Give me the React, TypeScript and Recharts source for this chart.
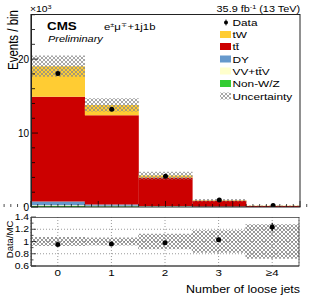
import React from 'react';
import { ComposedChart, Bar, Line, XAxis, YAxis, ErrorBar, CartesianGrid } from 'recharts';

const FONT = '"Liberation Sans", Arial, Helvetica, sans-serif';
const SX = 1.22;

// ---- data (thousands of events) ----
const categories = ['0', '1', '2', '3', '≥4'];
const nonWZ = [0.15, 0.1, 0.05, 0.02, 0.005];
const vvttv = [0.1, 0.08, 0.04, 0.02, 0.005];
const dyVals = [0.5, 0.15, 0.05, 0.02, 0.005];
const ttbar = [14.15, 12.07, 3.86, 0.79, 0.125];
const tw = [4.15, 1.4, 0.25, 0.07, 0.02];
const dataVals = [18.07, 13.22, 4.17, 0.95, 0.197];
const dataErr = [0.13, 0.11, 0.06, 0.03, 0.014];
const relUnc = [0.075, 0.065, 0.125, 0.185, 0.28];
const ratioVals = [0.95, 0.96, 0.98, 1.03, 1.235];
const ratioErr = [0.008, 0.009, 0.016, 0.035, 0.07];

const mainYTicks = [0, 2, 4, 6, 8, 10, 12, 14, 16, 18, 20, 22, 24, 26];
const mainYLabels: Record<number, string> = { 0: '0', 10: '10', 20: '20' };
const xMinorTicks: number[] = [];
for (let k = -5; k <= 45; k++) xMinorTicks.push(k / 10);
const ratioYTicks = [0.6, 0.7, 0.8, 0.9, 1.0, 1.1, 1.2, 1.3, 1.4];
const ratioYLabels: Record<string, string> = { '0.6': '0.6', '0.8': '0.8', '1': '1', '1.2': '1.2', '1.4': '1.4' };

const mainData = categories.map((cat, i) => {
  const mc = nonWZ[i] + vvttv[i] + dyVals[i] + ttbar[i] + tw[i];
  return {
    cat,
    nonWZ: nonWZ[i],
    vv: vvttv[i],
    dy: dyVals[i],
    tt: ttbar[i],
    tw: tw[i],
    unc: [mc * (1 - relUnc[i]), mc * (1 + relUnc[i])],
    data: dataVals[i],
    dataErr: dataErr[i],
  };
});

const ratioData = categories.map((cat, i) => ({
  cat,
  band: [1 - relUnc[i], 1 + relUnc[i]],
  ratio: ratioVals[i],
  ratioErr: ratioErr[i],
}));

function T(props: any) {
  const { x, y, size, children, anchor = 'start', weight = 'normal', fstyle = 'normal', rot = false, sx = SX } = props;
  const tr = rot
    ? `translate(${x},${y}) rotate(-90) scale(1,${sx})`
    : `translate(${x},${y}) scale(${sx},1)`;
  return (
    <text transform={tr} fontSize={size} fontFamily={FONT} fontWeight={weight} fontStyle={fstyle} textAnchor={anchor} fill="#000">
      {children}
    </text>
  );
}

const MainYTick = (props: any) => {
  const { x, y, payload } = props;
  const v = payload.value;
  const lab = mainYLabels[v];
  return (
    <g>
      <line x1={x} x2={x + (lab !== undefined ? 7 : 4)} y1={y} y2={y} stroke="#000" strokeWidth={0.8} />
      {lab !== undefined && (
        <text x={x - 2} y={y} dy="0.36em" textAnchor="end" fontSize={10} fontFamily={FONT} fill="#000">
          {lab}
        </text>
      )}
    </g>
  );
};

const MainXTick = (props: any) => {
  const { x, y, payload } = props;
  const v = payload.value;
  const major = Math.abs(v - Math.round(v)) < 1e-6;
  return <line x1={x} x2={x} y1={y} y2={y - (major ? 6 : 3)} stroke="#000" strokeWidth={0.7} />;
};

const RatioYTick = (props: any) => {
  const { x, y, payload } = props;
  const v = payload.value;
  const key = String(Math.round(v * 10) / 10);
  const lab = ratioYLabels[key];
  return (
    <g>
      <line x1={x} x2={x + (lab !== undefined ? 5 : 2.5)} y1={y} y2={y} stroke="#000" strokeWidth={0.7} />
      {lab !== undefined && (
        <text transform={`translate(${x - 2},${y}) scale(1.15,1)`} dy="0.36em" textAnchor="end" fontSize={9} fontFamily={FONT} fill="#000">
          {lab}
        </text>
      )}
    </g>
  );
};

const RatioXTick = (props: any) => {
  const { x, y, payload } = props;
  return (
    <text transform={`translate(${x},${y + 9.7}) scale(${SX},1)`} textAnchor="middle" fontSize={9.5} fontFamily={FONT} fill="#000">
      {payload.value}
    </text>
  );
};

const Hatch = ({ id, color = '#8a8a8a' }: { id: string; color?: string }) => (
  <pattern id={id} patternUnits="userSpaceOnUse" width={4} height={4}>
    <path d="M0,0 L4,4 M4,0 L0,4" stroke={color} strokeWidth={0.75} />
  </pattern>
);

const legendRows = [
  { label: 'tW', color: '#ffcc33', y: 34.5 },
  { label: 'tt\u0304', color: '#cc0000', y: 46.5 },
  { label: 'DY', color: '#6699cc', y: 59 },
  { label: 'VV+tt\u0304V', color: '#ffffcc', y: 71 },
  { label: 'Non-W/Z', color: '#33cc33', y: 83.5 },
];

const MAIN_MARGIN = { top: 14, right: 12, left: 31, bottom: 8 };

export default function App() {
  return (
    <div style={{ position: 'absolute', left: 0, top: 0, width: 312, height: 299, background: '#fff', overflow: 'hidden' }}>
      {/* main stacked histogram */}
      <div style={{ position: 'absolute', left: 0, top: 0 }}>
        <ComposedChart width={312} height={215} data={mainData} margin={MAIN_MARGIN} barCategoryGap={0} barGap={0}>
          <defs>
            <Hatch id="hatchMain" />
          </defs>
          <XAxis xAxisId="c" dataKey="cat" hide />
          <XAxis xAxisId="u" dataKey="cat" hide />
          <YAxis yAxisId="y" hide domain={[0, 26.1]} allowDataOverflow />
          <Bar xAxisId="c" yAxisId="y" stackId="mc" dataKey="nonWZ" fill="#33cc33" isAnimationActive={false} />
          <Bar xAxisId="c" yAxisId="y" stackId="mc" dataKey="vv" fill="#ffffcc" isAnimationActive={false} />
          <Bar xAxisId="c" yAxisId="y" stackId="mc" dataKey="dy" fill="#6699cc" isAnimationActive={false} />
          <Bar xAxisId="c" yAxisId="y" stackId="mc" dataKey="tt" fill="#cc0000" isAnimationActive={false} />
          <Bar xAxisId="c" yAxisId="y" stackId="mc" dataKey="tw" fill="#ffcc33" isAnimationActive={false} />
          <Bar xAxisId="u" yAxisId="y" dataKey="unc" fill="url(#hatchMain)" isAnimationActive={false} />
          <Line xAxisId="c" yAxisId="y" dataKey="data" stroke="none" dot={{ r: 2.5, fill: '#000', stroke: 'none' }} activeDot={false} isAnimationActive={false}>
            <ErrorBar dataKey="dataErr" width={0} stroke="#000" strokeWidth={1} />
          </Line>
        </ComposedChart>
      </div>

      {/* main axes drawn on top of the histogram (ROOT style inward ticks) */}
      <div style={{ position: 'absolute', left: 0, top: 0 }}>
        <ComposedChart width={312} height={215} data={mainData} margin={{ top: 14, right: 12, left: 1, bottom: 0 }}>
          <XAxis
            xAxisId="n"
            type="number"
            domain={[-0.5, 4.5]}
            ticks={xMinorTicks}
            interval={0}
            allowDataOverflow
            height={8}
            tickSize={0}
            tickMargin={0}
            axisLine={false}
            tick={<MainXTick />}
          />
          <YAxis
            yAxisId="y"
            width={30}
            domain={[0, 26.1]}
            ticks={mainYTicks}
            interval={0}
            allowDataOverflow
            tickSize={0}
            tickMargin={0}
            axisLine={{ stroke: '#000' }}
            tick={<MainYTick />}
          />
        </ComposedChart>
      </div>

      {/* ratio panel */}
      <div style={{ position: 'absolute', left: 0, top: 210 }}>
        <ComposedChart width={312} height={89} data={ratioData} margin={{ top: 7, right: 13, left: 1, bottom: 0 }} barCategoryGap={0} barGap={0}>
          <defs>
            <Hatch id="hatchRatio" color="#7a7a7a" />
          </defs>
          <CartesianGrid xAxisId="c" yAxisId="r" stroke="#9a9a9a" strokeDasharray="1 2" horizontalValues={[0.8, 1, 1.2]} />
          <XAxis xAxisId="c" dataKey="cat" height={33} tickSize={0} tickMargin={0} interval={0} axisLine={{ stroke: '#333' }} tickLine={false} tick={<RatioXTick />} />
          <YAxis
            yAxisId="r"
            width={30}
            domain={[0.6, 1.4]}
            ticks={ratioYTicks}
            interval={0}
            allowDataOverflow
            tickSize={0}
            tickMargin={0}
            axisLine={{ stroke: '#333' }}
            tick={<RatioYTick />}
          />
          <Bar xAxisId="c" yAxisId="r" dataKey="band" fill="url(#hatchRatio)" isAnimationActive={false} />
          <Line xAxisId="c" yAxisId="r" dataKey="ratio" stroke="none" dot={{ r: 2.5, fill: '#000', stroke: 'none' }} activeDot={false} isAnimationActive={false}>
            <ErrorBar dataKey="ratioErr" width={0} stroke="#000" strokeWidth={1} />
          </Line>
        </ComposedChart>
      </div>

      <svg width={312} height={299} style={{ position: 'absolute', left: 0, top: 0, pointerEvents: 'none' }}>
        <defs>
          <Hatch id="hatchLeg" />
        </defs>
        {/* frames */}
        <rect x={31.5} y={14.5} width={268.5} height={192.5} fill="none" stroke="#222" strokeWidth={1} />
        <rect x={31.5} y={217.5} width={267.5} height={48.5} fill="none" stroke="#444" strokeWidth={0.8} />

        {/* header */}
        <T x={30} y={12} size={8.5}>
          ×10<tspan fontSize={6} dy={-3.5}>3</tspan>
        </T>
        <T x={300} y={12} size={8.9} anchor="end">
          35.9 fb<tspan fontSize={6} dy={-3.5}>-1</tspan>
          <tspan dy={3.5}> (13 TeV)</tspan>
        </T>
        <T x={47} y={30} size={11} weight="bold">CMS</T>
        <T x={48} y={41.5} size={9} fstyle="italic">Preliminary</T>
        <T x={104} y={30} size={9.3}>
          e<tspan fontSize={6} dy={-3.5}>±</tspan>
          <tspan dy={3.5}>μ</tspan>
          <tspan fontSize={6} dy={-3.5}>∓</tspan>
          <tspan dy={3.5}>+1j1b</tspan>
        </T>

        {/* axis titles */}
        <T x={17.5} y={40} size={11.5} anchor="middle" rot>Events / bin</T>
        <T x={12.5} y={239.5} size={9.5} anchor="middle" rot sx={1.0}>Data/MC</T>
        <T x={300} y={293.3} size={10.2} anchor="end">Number of loose jets</T>

        {/* legend */}
        <circle cx={226} cy={22.5} r={2} fill="#000" />
        <line x1={226} x2={226} y1={19.5} y2={25.5} stroke="#000" strokeWidth={0.8} />
        <T x={232.5} y={26} size={9.7}>Data</T>
        {legendRows.map((r) => (
          <g key={r.label}>
            <rect x={220} y={r.y - 3.5} width={11} height={7} fill={r.color} />
            <T x={232.5} y={r.y + 3.5} size={9.7}>{r.label}</T>
          </g>
        ))}
        <rect x={220} y={92.5} width={11} height={7} fill="url(#hatchLeg)" />
        <T x={232.5} y={99.5} size={9.7}>Uncertainty</T>
      </svg>
    </div>
  );
}
